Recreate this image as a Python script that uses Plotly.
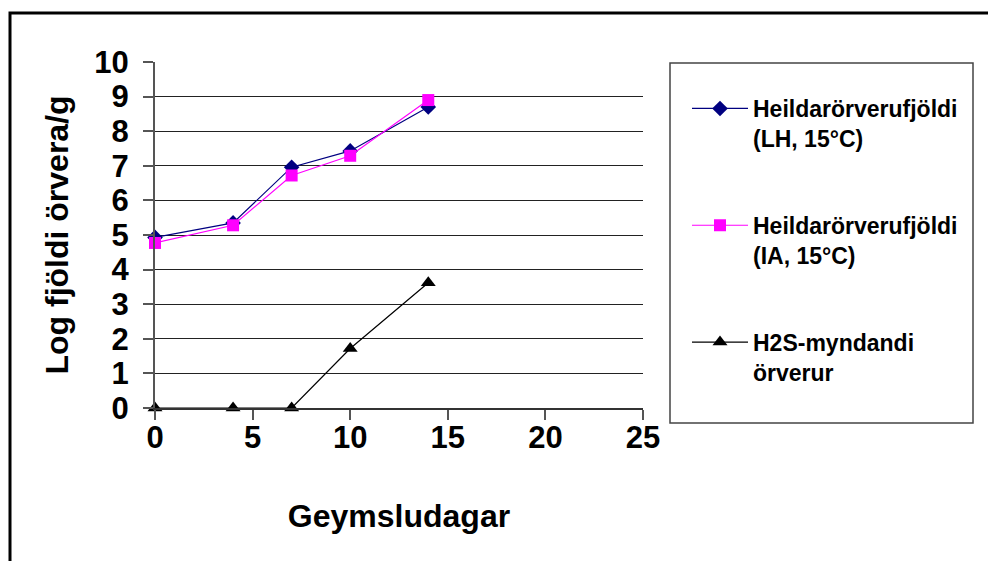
import plotly.graph_objects as go

# Data
days = [0, 4, 7, 10, 14]
lh_values = [4.93, 5.35, 6.96, 7.43, 8.70]
ia_values = [4.77, 5.28, 6.72, 7.29, 8.90]
h2s_values = [0.0, 0.0, 0.0, 1.72, 3.62]
series_names = ["Heildarörverufjöldi<br>(LH, 15°C)",
                "Heildarörverufjöldi<br>(IA, 15°C)",
                "H2S-myndandi<br>örverur"]
x_ticks = [0, 5, 10, 15, 20, 25]
y_ticks = list(range(0, 11))
x_title = "Geymsludagar"
y_title = "Log fjöldi örvera/g"

FONT = "Liberation Sans, Arial, sans-serif"

fig = go.Figure()
fig.add_trace(go.Scatter(x=days, y=lh_values, name=series_names[0], mode="lines+markers",
                         line=dict(color="#000080", width=1.2),
                         marker=dict(symbol="diamond", size=12, color="#000080"),
                         legendgroup="a", cliponaxis=False))
fig.add_trace(go.Scatter(x=days, y=ia_values, name=series_names[1], mode="lines+markers",
                         line=dict(color="#FF00FF", width=1.2),
                         marker=dict(symbol="square", size=12, color="#FF00FF"),
                         legendgroup="b", cliponaxis=False))
fig.add_trace(go.Scatter(x=days, y=h2s_values, name=series_names[2], mode="lines+markers",
                         line=dict(color="#000000", width=1.2),
                         marker=dict(symbol="triangle-up", size=13, color="#000000"),
                         legendgroup="c", cliponaxis=False))

# page body has an 8px margin; target coordinates are window pixels
OFF = 8
W, H = 996 - OFF, 561 - OFF
L, T = 155 - OFF, 62 - OFF
pw, ph = 488, 346
R, B = W - L - pw, H - T - ph

def px_x(p):
    return (p - OFF - L) / pw

def px_y(p):
    return (T + ph - (p - OFF)) / ph

# outer frame
fig.add_shape(type="rect", xref="paper", yref="paper",
              x0=px_x(10), x1=px_x(1010), y0=px_y(590), y1=px_y(13),
              line=dict(color="black", width=3), layer="below")
# legend box
fig.add_shape(type="rect", xref="paper", yref="paper",
              x0=px_x(670), x1=px_x(973), y0=px_y(423), y1=px_y(63),
              line=dict(color="#444", width=1.5), layer="below")

fig.update_layout(
    width=W, height=H,
    margin=dict(l=L, r=R, t=T, b=B, pad=0),
    paper_bgcolor="white", plot_bgcolor="white",
    font=dict(family=FONT, color="black"),
    showlegend=True,
    legend=dict(x=px_x(687), y=px_y(87), xanchor="left", yanchor="top",
                font=dict(family=FONT, size=23, weight="bold", color="black"),
                itemwidth=56, tracegroupgap=54, valign="top",
                traceorder="grouped", bgcolor="rgba(0,0,0,0)", borderwidth=0),
    xaxis=dict(range=[0, 25], tickvals=x_ticks, showgrid=False, zeroline=False,
               showline=True, linecolor="#333", linewidth=2,
               ticks="outside", ticklen=10, tickcolor="#555", tickwidth=1.5,
               ticklabelstandoff=0,
               tickfont=dict(family=FONT, size=31, weight="bold"),
               title=dict(text=x_title, standoff=41,
                          font=dict(family=FONT, size=32, weight="bold"))),
    yaxis=dict(range=[0, 10], tickvals=y_ticks, showgrid=True, gridcolor="#222", gridwidth=1.4,
               zeroline=False, showline=True, linecolor="#555", linewidth=2,
               ticks="outside", ticklen=10, tickcolor="#555", tickwidth=1.5,
               ticklabelstandoff=8,
               tickfont=dict(family=FONT, size=31, weight="bold"),
               title=dict(text=y_title, standoff=16,
                          font=dict(family=FONT, size=32, weight="bold"))),
)

try:
    fig.update_xaxes(ticklabelstandoff=-9, title_standoff=50)
except Exception:
    pass

fig.write_html("out.html")
